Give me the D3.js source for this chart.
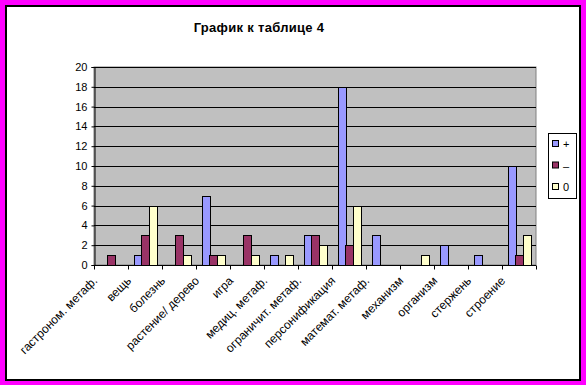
<!DOCTYPE html>
<html>
<head>
<meta charset="utf-8">
<script src="https://cdn.jsdelivr.net/npm/d3@7"></script>
<style>
  body { margin: 0; background: #ff00ff; }
  text { font-family: "Liberation Sans", Arial, sans-serif; }
</style>
</head>
<body>
<svg width="586" height="385"></svg>
<script>
var categories = ["гастроном. метаф.", "вещь", "болезнь", "растение/ дерево", "игра",
  "медиц. метаф.", "ограничит. метаф.", "персонификация", "математ. метаф.",
  "механизм", "организм", "стержень", "строение"];
var seriesNames = ["+", "–", "0"];
var plusVals  = [0, 1, 0, 7, 0, 1, 3, 18, 3, 0, 2, 1, 10];
var minusVals = [1, 3, 3, 1, 3, 0, 3, 2, 0, 0, 0, 0, 1];
var zeroVals  = [0, 6, 1, 1, 1, 1, 2, 6, 0, 1, 0, 0, 3];
var yTicks = [0, 2, 4, 6, 8, 10, 12, 14, 16, 18, 20];
var colors = ["#9999ff", "#993366", "#ffffcc"];

var margin = {left:94, right:50, top:67, bottom:120};
var width = 536 - margin.left;
var height = 265 - margin.top;

var svg = d3.select("svg");

// chart frame
svg.append("rect").attr("x", 6).attr("y", 6).attr("width", 574).attr("height", 374)
  .attr("fill", "#fff").attr("stroke", "#000").attr("stroke-width", 2);

svg.append("text").attr("x", 259).attr("y", 32).attr("text-anchor", "middle")
  .attr("font-size", 13).attr("font-weight", "bold").attr("letter-spacing", 0.3)
  .text("График к таблице 4");

var g = svg.append("g").attr("transform", "translate(" + margin.left + "," + margin.top + ")");

var x = d3.scaleBand().domain(categories).range([0, width]);
var x1 = d3.scaleBand().domain(seriesNames).range([0, x.bandwidth()]).paddingInner(0).paddingOuter(0.75);
var y = d3.scaleLinear().domain([0, 20]).range([height, 0]);

g.append("rect").attr("width", width).attr("height", height)
  .attr("fill", "#c0c0c0").attr("stroke", "#808080");

g.selectAll(".grid").data(yTicks.slice(1)).enter().append("line")
  .attr("x1", 0).attr("x2", width)
  .attr("y1", function(d) { return Math.round(y(d)) + 0.5; })
  .attr("y2", function(d) { return Math.round(y(d)) + 0.5; })
  .attr("stroke", "#000");

var rows = categories.map(function(c, i) {
  return [plusVals[i], minusVals[i], zeroVals[i]];
});

var groups = g.selectAll(".cat").data(rows).enter().append("g")
  .attr("transform", function(d, i) { return "translate(" + x(categories[i]) + ",0)"; });

groups.selectAll("rect").data(function(d) {
  return d.map(function(v, j) { return {k: seriesNames[j], v: v, j: j}; }).filter(function(e) { return e.v > 0; });
}).enter().append("rect")
  .attr("x", function(d) { return Math.round(x1(d.k)) + 0.5; })
  .attr("y", function(d) { return Math.round(y(d.v)) + 0.5; })
  .attr("width", Math.round(x1.bandwidth()))
  .attr("height", function(d) { return Math.round(height - y(d.v)); })
  .attr("fill", function(d) { return colors[d.j]; })
  .attr("stroke", "#000");

// y axis
var yAxis = g.append("g").attr("transform", "translate(0.5,0)")
  .call(d3.axisLeft(y).tickValues(yTicks).tickSize(3).tickPadding(4));
yAxis.select(".domain").attr("stroke", "#000");
yAxis.selectAll("text").attr("font-size", 11).attr("fill", "#000")
  .style("font-family", "Liberation Sans, Arial, sans-serif");

// x axis
var xAxis = g.append("g").attr("transform", "translate(0," + (height + 0.5) + ")");
xAxis.append("line").attr("x1", 0).attr("x2", width).attr("stroke", "#000");
xAxis.selectAll(".tk").data(d3.range(categories.length + 1)).enter().append("line")
  .attr("x1", function(i) { return Math.round(i * x.step()) + 0.5; })
  .attr("x2", function(i) { return Math.round(i * x.step()) + 0.5; })
  .attr("y1", 0).attr("y2", 4).attr("stroke", "#000");
xAxis.selectAll(".lbl").data(categories).enter().append("text")
  .attr("transform", function(d) {
    return "translate(" + (x(d) + x.bandwidth() / 2 - 13) + ",16) rotate(-45)";
  })
  .attr("text-anchor", "end").attr("font-size", 12).text(function(d) { return d; });

// legend
var leg = svg.append("g").attr("transform", "translate(548,133)");
leg.append("rect").attr("x", 0.5).attr("y", 0.5).attr("width", 28).attr("height", 65)
  .attr("fill", "#fff").attr("stroke", "#000");
seriesNames.forEach(function(s, i) {
  leg.append("rect").attr("x", 4.5).attr("y", 7.5 + i * 21.5).attr("width", 6).attr("height", 6)
    .attr("fill", colors[i]).attr("stroke", "#000");
  leg.append("text").attr("x", 15).attr("y", 15 + i * 21.5).attr("font-size", 11).text(s);
});
</script>
</body>
</html>
